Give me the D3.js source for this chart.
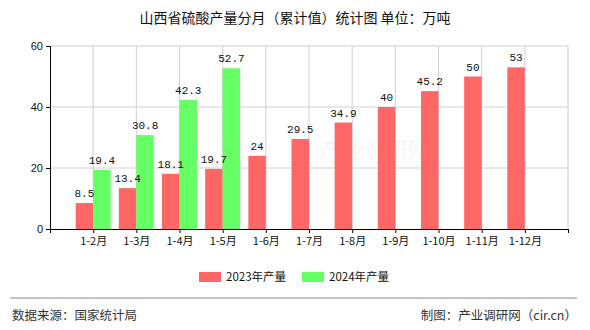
<!DOCTYPE html>
<html>
<head>
<meta charset="utf-8">
<script src="https://cdn.jsdelivr.net/npm/d3@7"></script>
<style>
  html, body { margin: 0; padding: 0; background: #fff; }
  svg { display: block; }
</style>
</head>
<body>
<svg id="chart" width="590" height="330"></svg>
<script>
// Cumulative sulphuric acid output, Shanxi province (10k tonnes)
const categories = ["1-2月", "1-3月", "1-4月", "1-5月", "1-6月", "1-7月", "1-8月", "1-9月", "1-10月", "1-11月", "1-12月"];
const values2023 = [8.5, 13.4, 18.1, 19.7, 24, 29.5, 34.9, 40, 45.2, 50, 53];
const values2024 = [19.4, 30.8, 42.3, 52.7, null, null, null, null, null, null, null];
const seriesNames = ["2023年产量", "2024年产量"];
const yTicks = [0, 20, 40, 60];

const colors = ["#ff6666", "#66ff66"];
const cjk = "'Noto Sans CJK SC', sans-serif";
const mono = "'Liberation Mono', 'DejaVu Sans Mono', monospace";
const svg = d3.select("#chart");
const W = 590;

const plot = { left: 50, right: 568, top: 46, bottom: 229 };

// Slots: one empty position before and after the categories
const slots = ["__start", ...categories, "__end"];
const x = d3.scalePoint().domain(slots).range([plot.left, plot.right]);
const y = d3.scaleLinear().domain([0, 60]).range([plot.bottom, plot.top]);
const barW = 17.5;

// Title
svg.append("text")
  .attr("x", W / 2).attr("y", 23)
  .attr("text-anchor", "middle")
  .style("font-family", cjk)
  .style("font-size", "14px")
  .attr("fill", "#111")
  .text("山西省硫酸产量分月（累计值）统计图 单位：万吨");

// Faint watermark
svg.append("text")
  .attr("x", 375).attr("y", 158)
  .attr("text-anchor", "middle")
  .style("font-family", cjk)
  .style("font-size", "22px")
  .attr("fill", "#f3c8c8")
  .attr("opacity", 0.2)
  .text("产业调研网");

// Grid: horizontal
svg.append("g").selectAll("line").data(yTicks.filter(d => d > 0)).join("line")
  .attr("x1", plot.left).attr("x2", plot.right)
  .attr("y1", d => y(d)).attr("y2", d => y(d))
  .attr("stroke", "#d0d0d0").attr("stroke-width", 1);

// Grid: vertical at every slot
svg.append("g").selectAll("line").data(slots.slice(1)).join("line")
  .attr("x1", d => x(d)).attr("x2", d => x(d))
  .attr("y1", plot.top).attr("y2", plot.bottom)
  .attr("stroke", "#d0d0d0").attr("stroke-width", 1);

// Bars first, then all value labels on top
const series = [values2023, values2024];
const barLayer = svg.append("g");
const labelLayer = svg.append("g");
series.forEach((vals, si) => {
  const data = categories.map((c, i) => ({ c, v: vals[i] })).filter(d => d.v != null);
  barLayer.append("g").selectAll("rect").data(data).join("rect")
    .attr("x", d => x(d.c) + (si === 0 ? -barW : 0))
    .attr("y", d => y(d.v))
    .attr("width", barW)
    .attr("height", d => plot.bottom - y(d.v))
    .attr("fill", colors[si]);
  labelLayer.append("g").selectAll("text").data(data).join("text")
    .attr("x", d => x(d.c) + (si === 0 ? -barW / 2 : barW / 2))
    .attr("y", d => y(d.v) - 6)
    .attr("text-anchor", "middle")
    .style("font-family", mono)
    .style("font-size", "11px")
    .attr("fill", "#111")
    .text(d => d.v);
});

// Y axis
const yAxis = d3.axisLeft(y).tickValues(yTicks).tickSize(4).tickPadding(3);
const ya = svg.append("g").attr("transform", `translate(${plot.left},0)`).call(yAxis);
ya.select(".domain").attr("stroke", "#000");
ya.selectAll(".tick line").attr("stroke", "#000");
ya.selectAll(".tick text").attr("fill", "#111")
  .style("font-family", "'Liberation Sans', sans-serif").style("font-size", "11px");

// X axis
const xAxis = d3.axisBottom(x).tickSize(4).tickSizeOuter(0).tickPadding(4)
  .tickFormat(d => d.startsWith("__") ? "" : d);
const xa = svg.append("g").attr("transform", `translate(0,${plot.bottom})`).call(xAxis);
xa.select(".domain").attr("stroke", "#000");
xa.selectAll(".tick line").attr("stroke", "#000");
xa.selectAll(".tick text").attr("fill", "#111")
  .style("font-family", cjk).style("font-size", "11px");

// Legend
const legend = svg.append("g").attr("transform", "translate(0,277)");
const legendX = [199, 302];
seriesNames.forEach((name, i) => {
  legend.append("rect").attr("x", legendX[i]).attr("y", -5).attr("width", 22).attr("height", 10).attr("fill", colors[i]);
  legend.append("text").attr("x", legendX[i] + 27).attr("y", 4)
    .attr("fill", "#111")
    .style("font-family", cjk).style("font-size", "11.5px")
    .text(name);
});

// Footer
svg.append("line").attr("x1", 10).attr("x2", 577).attr("y1", 298).attr("y2", 298)
  .attr("stroke", "#888").attr("stroke-width", 1);
svg.append("text").attr("x", 12).attr("y", 320)
  .attr("fill", "#333")
  .style("font-family", cjk).style("font-size", "12.5px")
  .text("数据来源：国家统计局");
svg.append("text").attr("x", 577).attr("y", 320)
  .attr("text-anchor", "end")
  .attr("fill", "#333")
  .style("font-family", cjk).style("font-size", "12.5px")
  .text("制图：产业调研网（cir.cn）");
</script>
</body>
</html>
